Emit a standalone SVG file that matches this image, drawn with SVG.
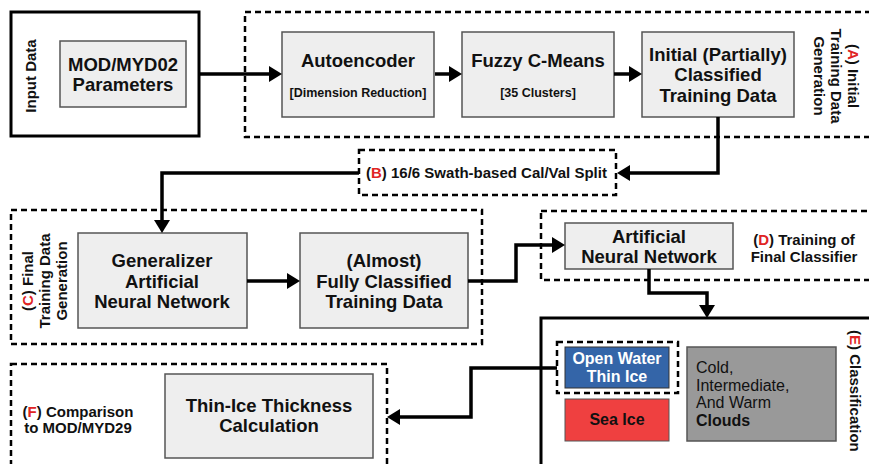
<svg xmlns="http://www.w3.org/2000/svg" width="869" height="464" viewBox="0 0 869 464">
<defs>
<style>
text{font-family:"Liberation Sans",Arial,sans-serif;font-weight:bold;fill:#111;}
.box{fill:#eeeeee;stroke:#555;stroke-width:1.5;}
.t{font-size:18.5px;text-anchor:middle;}
.s{font-size:12.5px;text-anchor:middle;}
.lab{font-size:15px;text-anchor:middle;}
.red{fill:#e02424;}
.dash{fill:none;stroke:#000;stroke-width:2.5;stroke-dasharray:6 4;}
.solid{fill:#fff;stroke:#000;stroke-width:3;}
.con{fill:none;stroke:#000;stroke-width:3.5;marker-end:url(#ah);}
</style>
<marker id="ah" markerUnits="userSpaceOnUse" viewBox="0 0 13 16" markerWidth="13" markerHeight="16" refX="7" refY="8" orient="auto">
<path d="M0,0 L13,8 L0,16 Z" fill="#000"/>
</marker>
</defs>
<rect width="869" height="464" fill="#fff"/>

<g id="input">
<rect class="solid" x="11" y="12" width="188" height="124"/>
<text class="lab" transform="translate(36,76) rotate(-90)">Input Data</text>
</g>
<g id="mod02">
<rect class="box" x="60" y="41" width="126" height="66"/>
<text class="t" x="123" y="71">MOD/MYD02</text>
<text class="t" x="123" y="91">Parameters</text>
</g>

<g id="groupA">
<rect class="dash" x="245" y="12" width="640" height="125"/>
<text class="lab" transform="translate(848,76) rotate(90)"><tspan x="0" y="0">(<tspan class="red">A</tspan>) Initial</tspan><tspan x="0" y="17">Training Data</tspan><tspan x="0" y="34">Generation</tspan></text>
</g>
<g id="autoencoder">
<rect class="box" x="282" y="32" width="152" height="85"/>
<text class="t" x="358" y="67">Autoencoder</text>
<text class="s" x="358" y="97">[Dimension Reduction]</text>
</g>
<g id="fcm">
<rect class="box" x="462" y="32" width="152" height="85"/>
<text class="t" x="538" y="67">Fuzzy C-Means</text>
<text class="s" x="538" y="97">[35 Clusters]</text>
</g>
<g id="initial">
<rect class="box" x="642" y="32" width="152" height="85"/>
<text class="t" x="718" y="61">Initial (Partially)</text>
<text class="t" x="718" y="81">Classified</text>
<text class="t" x="718" y="102">Training Data</text>
</g>

<g id="groupB">
<rect class="dash" x="359" y="150" width="257" height="45"/>
<text x="366" y="178" style="font-size:15px">(<tspan class="red">B</tspan>) 16/6 Swath-based Cal/Val Split</text>
</g>

<g id="groupC">
<rect class="dash" x="11" y="210" width="471" height="134"/>
<text class="lab" transform="translate(33,281) rotate(-90)"><tspan x="0" y="0">(<tspan class="red">C</tspan>) Final</tspan><tspan x="0" y="17">Training Data</tspan><tspan x="0" y="34">Generation</tspan></text>
</g>
<g id="generalizer">
<rect class="box" x="78" y="233" width="169" height="95"/>
<text class="t" x="162" y="267">Generalizer</text>
<text class="t" x="162" y="288">Artificial</text>
<text class="t" x="162" y="308">Neural Network</text>
</g>
<g id="almost">
<rect class="box" x="300" y="233" width="168" height="95"/>
<text class="t" x="384" y="267">(Almost)</text>
<text class="t" x="384" y="288">Fully Classified</text>
<text class="t" x="384" y="308">Training Data</text>
</g>

<g id="groupD">
<rect class="dash" x="541" y="211" width="340" height="69"/>
<text class="lab" x="804" y="245">(<tspan class="red">D</tspan>) Training of</text>
<text class="lab" x="804" y="262">Final Classifier</text>
</g>
<g id="ann">
<rect class="box" x="565" y="223" width="168" height="46"/>
<text class="t" x="649" y="243">Artificial</text>
<text class="t" x="649" y="263">Neural Network</text>
</g>

<g id="groupE">
<rect class="solid" x="541" y="318" width="340" height="160"/>
<text class="lab" style="text-anchor:start" transform="translate(850,330) rotate(90)">(<tspan class="red">E</tspan>) Classification</text>
</g>
<g id="openwater">
<rect class="dash" x="557" y="342" width="121" height="51"/>
<rect x="565" y="347" width="104" height="41" fill="#3465a8" stroke="#333" stroke-width="1"/>
<text x="617" y="364" style="font-size:16px;text-anchor:middle;fill:#fff">Open Water</text>
<text x="617" y="382" style="font-size:16px;text-anchor:middle;fill:#fff">Thin Ice</text>
</g>
<g id="seaice">
<rect x="565" y="399" width="104" height="42" fill="#ef4040" stroke="#555" stroke-width="1"/>
<text x="617" y="425" style="font-size:16px;text-anchor:middle">Sea Ice</text>
</g>
<g id="clouds">
<rect x="687" y="347" width="149" height="94" fill="#999999" stroke="#555" stroke-width="1.5"/>
<text x="696" y="373" style="font-size:16px;font-weight:normal">Cold,</text>
<text x="696" y="391" style="font-size:16px;font-weight:normal">Intermediate,</text>
<text x="696" y="408" style="font-size:16px;font-weight:normal">And Warm</text>
<text x="696" y="426" style="font-size:16px">Clouds</text>
</g>

<g id="groupF">
<rect class="dash" x="11" y="364" width="376" height="110"/>
<text class="lab" x="78" y="417">(<tspan class="red">F</tspan>) Comparison</text>
<text class="lab" x="78" y="433">to MOD/MYD29</text>
</g>
<g id="thinice">
<rect class="box" x="165" y="374" width="208" height="84"/>
<text class="t" x="269" y="412">Thin-Ice Thickness</text>
<text class="t" x="269" y="432">Calculation</text>
</g>

<g id="connectors">
<path class="con" d="M199,74 H276"/>
<path class="con" d="M435,74 H456"/>
<path class="con" d="M614,74 H636"/>
<path class="con" d="M718,117 V173 H623"/>
<path class="con" d="M359,173 H162 V227"/>
<path class="con" d="M247,281 H294"/>
<path class="con" d="M468,281 H516 V245 H559"/>
<path class="con" d="M649,269 V293 H707 V312"/>
<path class="con" d="M557,368 H471 V417 H393"/>
</g>
</svg>
